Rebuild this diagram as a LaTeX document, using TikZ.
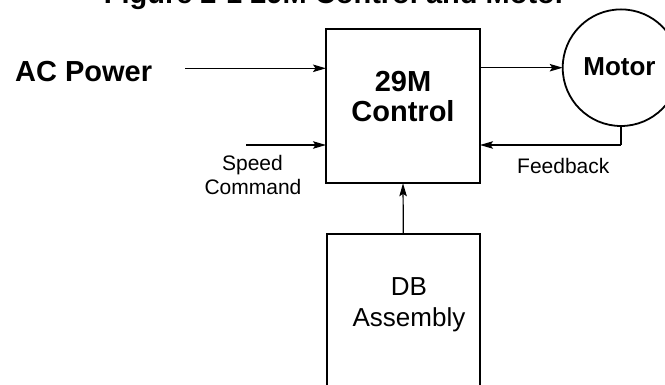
\documentclass[tikz,border=0pt]{standalone}
\usepackage{fontspec}
\setmainfont{Liberation Sans}
\usetikzlibrary{arrows.meta}
\begin{document}
\begin{tikzpicture}[x=1pt,y=-1pt,
  boxstyle/.style={draw,line width=1.8pt,inner sep=0pt,outer sep=0pt},
  conn/.style={line width=1.2pt,-{Stealth[length=13pt,width=7.5pt,inset=2.5pt]}},
  plainline/.style={line width=1.2pt},
  bigbold/.style={font=\fontsize{29}{30}\selectfont\bfseries,inner sep=0pt,anchor=base},
  midbold/.style={font=\fontsize{26}{28}\selectfont\bfseries,inner sep=0pt,anchor=base},
  smalltext/.style={font=\fontsize{21}{24}\selectfont,inner sep=0pt,anchor=base},
  midtext/.style={font=\fontsize{26}{28}\selectfont,inner sep=0pt,anchor=base}]
\useasboundingbox (0,0) rectangle (665,385);
% title (cut off at the top)
\node[bigbold] (title) at (335,4) {Figure 2-1 29M Control and Motor};
% control box
\node[boxstyle,minimum width=154pt,minimum height=154pt] (control) at (403,106.3) {};
\node[bigbold] (ctrlA) at (403,91.7) {29M};
\node[bigbold] (ctrlB) at (403,121.7) {Control};
% motor
\node[boxstyle,circle,minimum size=116.6pt] (motor) at (621,67.7) {};
\node[midbold] (motortext) at (619.5,76) {Motor};
% DB assembly
\node[boxstyle,minimum width=153.3pt,minimum height=166pt] (db) at (403.35,317) {};
\node[midtext] (dbA) at (409,295) {DB};
\node[midtext] (dbB) at (409,326.7) {Assembly};
% AC power
\node[bigbold,anchor=base west] (ac) at (15,81.7) {AC Power};
\coordinate (acstart) at (185,68.3);
\draw[conn] (acstart) -- (acstart -| control.west);
% speed command
\coordinate (speedstart) at (246,145);
\draw[conn] (speedstart) -- (speedstart -| control.west);
\node[smalltext] (speedA) at (252.5,170.7) {Speed};
\node[smalltext] (speedB) at (253,195) {Command};
% motor drive
\draw[conn] (control.east |- motor.west) -- (motor.west);
% feedback
\coordinate (fbcorner) at (621,145);
\draw[plainline] (motor.south) -- (fbcorner);
\draw[conn] (fbcorner) -- (fbcorner -| control.east);
\node[smalltext] (fb) at (563.3,174) {Feedback};
% DB to control
\draw[conn] (db.north) -- (control.south);
\end{tikzpicture}
\end{document}
